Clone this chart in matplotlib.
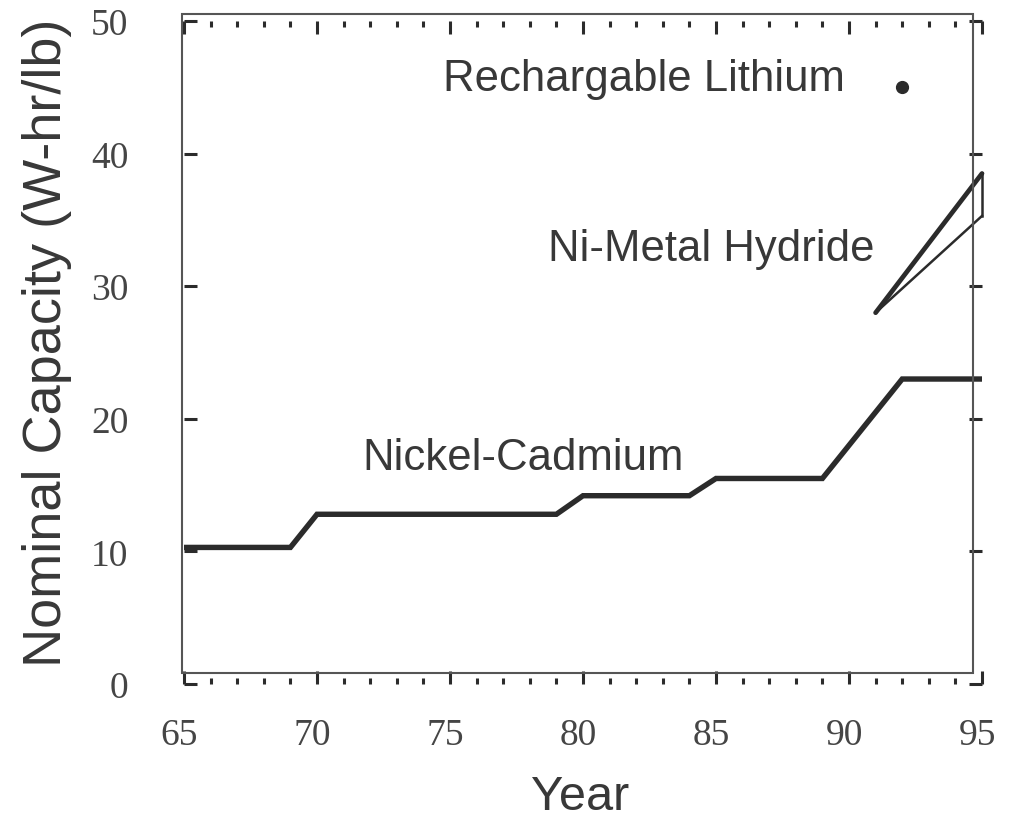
import matplotlib
matplotlib.use("Agg")
import matplotlib.pyplot as plt
import matplotlib.transforms as mtransforms
from matplotlib.patches import Rectangle
from matplotlib.ticker import FixedLocator, MultipleLocator

# Nominal capacity by year (W-hr/lb)
years_nicd = [65, 69, 70, 79, 80, 84, 85, 89, 92, 95]
cap_nicd = [10.3, 10.3, 12.8, 12.8, 14.2, 14.2, 15.5, 15.5, 23.0, 23.0]

years_nimh = [91, 95]
cap_nimh_high = [28.0, 38.5]
cap_nimh_low = [28.0, 35.3]

year_li = [92]
cap_li = [45.0]

x_ticks = [65, 70, 75, 80, 85, 90, 95]
y_ticks = [0, 10, 20, 30, 40, 50]

series_names = ["Rechargable Lithium", "Ni-Metal Hydride", "Nickel-Cadmium"]

W, H, DPI = 1011, 820, 100
fig = plt.figure(figsize=(W / DPI, H / DPI), dpi=DPI)
fig.patch.set_facecolor("white")


def px(x, y):
    """pixel position (from top-left) -> figure fraction"""
    return x / W, 1 - y / H


# axes carrying the data scale and the ticks
left, right, top, bottom = 184, 982, 22, 685
ax = fig.add_axes([left / W, 1 - bottom / H, (right - left) / W, (bottom - top) / H])
ax.set_xlim(65, 95)
ax.set_ylim(0, 50)
for s in ax.spines.values():
    s.set_visible(False)
ax.patch.set_visible(False)

line_col = "#2b2b2b"
text_col = "#383838"

ax.xaxis.set_major_locator(FixedLocator(x_ticks))
ax.xaxis.set_minor_locator(MultipleLocator(1))
ax.yaxis.set_major_locator(FixedLocator(y_ticks))
ax.set_xticklabels([str(v) for v in x_ticks])
ax.set_yticklabels([str(v) for v in y_ticks])

ax.tick_params(axis="both", which="major", direction="in", length=9.5, width=2.2,
               color=line_col, labelsize=27, labelcolor="#454545")
ax.tick_params(axis="x", which="major", top=True, bottom=True, pad=24)
ax.tick_params(axis="y", which="major", left=True, right=True, pad=40)
ax.tick_params(axis="x", which="minor", direction="in", length=4.3, width=2.2,
               color=line_col, top=True, bottom=True)
for lab in ax.get_xticklabels() + ax.get_yticklabels():
    lab.set_fontfamily(["Liberation Serif", "DejaVu Serif"])
shift = mtransforms.ScaledTranslation(-5 / DPI, 0, fig.dpi_scale_trans)
for lab in ax.get_xticklabels():
    lab.set_transform(lab.get_transform() + shift)

# visible frame
x0, y0 = px(182, 674)
x1, y1 = px(973, 15)
fig.patches.append(Rectangle((x0, y0), x1 - x0, y1 - y0, transform=fig.transFigure,
                             fill=False, edgecolor="#555555", linewidth=1.5, zorder=1))

# Nickel-Cadmium
ax.plot(years_nicd, cap_nicd, color=line_col, linewidth=3.9, solid_joinstyle="miter",
        solid_capstyle="butt", clip_on=False, zorder=3)

# Ni-Metal Hydride band
ax.plot(years_nimh, cap_nimh_high, color=line_col, linewidth=3.4, clip_on=False,
        solid_capstyle="round", zorder=3)
ax.plot(years_nimh, cap_nimh_low, color=line_col, linewidth=1.8, clip_on=False, zorder=3)
ax.plot([years_nimh[-1], years_nimh[-1]], [cap_nimh_low[-1], cap_nimh_high[-1]],
        color=line_col, linewidth=1.8, clip_on=False, zorder=3)

# Rechargable Lithium
ax.plot(year_li, cap_li, "o", color=line_col, markersize=8.5, clip_on=False, zorder=3)

# series labels
label_font = dict(fontfamily=["Liberation Sans", "DejaVu Sans"], fontsize=31.5, color=text_col)
ax.text(74.75, 44.8, series_names[0], ha="left", va="baseline", **label_font)
ax.text(78.7, 32.0, series_names[1], ha="left", va="baseline", **label_font)
ax.text(71.7, 16.2, series_names[2], ha="left", va="baseline", **label_font)

# axis titles
fig.text(*px(580, 810), "Year", ha="center", va="baseline",
         fontfamily=["Liberation Sans", "DejaVu Sans"], fontsize=35, color=text_col)
fig.text(*px(61, 343), "Nominal Capacity (W-hr/lb)", ha="center", va="baseline",
         rotation=90, rotation_mode="anchor",
         fontfamily=["Liberation Sans", "DejaVu Sans"], fontsize=39, color=text_col)

fig.savefig("out.png", dpi=DPI, facecolor="white")
